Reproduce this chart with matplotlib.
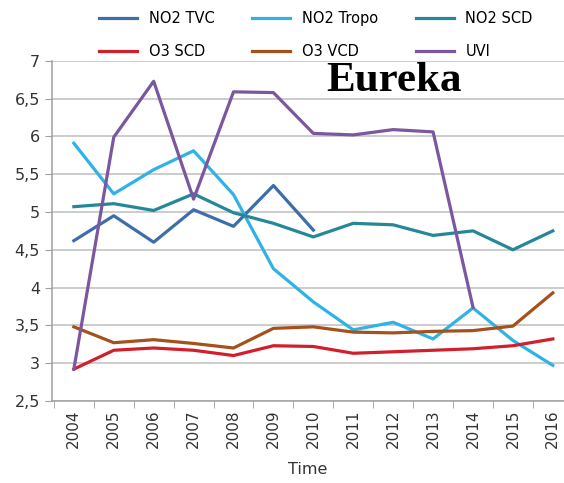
import numpy as np
import matplotlib.pyplot as plt
from matplotlib.ticker import FuncFormatter, FixedLocator

years = ['2004', '2005', '2006', '2007', '2008', '2009', '2010',
         '2011', '2012', '2013', '2014', '2015', '2016']
no2_tvc = [4.62, 4.95, 4.60, 5.03, 4.81, 5.35, 4.76]
no2_tropo = [5.91, 5.24, 5.56, 5.81, 5.23, 4.25, 3.81, 3.44, 3.54, 3.32, 3.73, 3.30, 2.97]
no2_scd = [5.07, 5.11, 5.02, 5.24, 4.99, 4.85, 4.67, 4.85, 4.83, 4.69, 4.75, 4.50, 4.75]
o3_scd = [2.92, 3.17, 3.20, 3.17, 3.10, 3.23, 3.22, 3.13, 3.15, 3.17, 3.19, 3.23, 3.32]
o3_vcd = [3.48, 3.27, 3.31, 3.26, 3.20, 3.46, 3.48, 3.41, 3.40, 3.42, 3.43, 3.49, 3.93]
uvi = [2.92, 5.99, 6.73, 5.17, 6.59, 6.58, 6.04, 6.02, 6.09, 6.06, 3.74]

fig = plt.figure(figsize=(5.64, 4.83), dpi=100)
ax = fig.add_axes([0.092, 0.17, 0.908, 0.704])

x = np.arange(len(years))
lw = 2.3
l1, = ax.plot(x[:len(no2_tvc)], no2_tvc, color='#3d6eab', lw=lw, label='NO2 TVC')
l2, = ax.plot(x, no2_tropo, color='#2fb2e6', lw=lw, label='NO2 Tropo')
l3, = ax.plot(x, no2_scd, color='#25889a', lw=lw, label='NO2 SCD')
l4, = ax.plot(x, o3_scd, color='#d1202b', lw=lw, label='O3 SCD')
l5, = ax.plot(x, o3_vcd, color='#a4511c', lw=lw, label='O3 VCD')
l6, = ax.plot(x[:len(uvi)], uvi, color='#7a579f', lw=lw, label='UVI')

ax.set_xlim(-0.55, 12.28)
ax.set_ylim(2.5, 7)
ax.set_yticks(np.arange(2.5, 7.01, 0.5))
ax.yaxis.set_major_formatter(FuncFormatter(lambda v, p: ('%g' % v).replace('.', ',')))
ax.grid(axis='y', color='#bfbfbf', lw=1.1)
ax.set_axisbelow(True)

ax.set_xticks(x)
ax.set_xticklabels(years, rotation=90, fontsize=11, color='#333333')
ax.xaxis.set_minor_locator(FixedLocator(np.arange(-0.5, 12.6, 1)))
ax.tick_params(axis='x', which='major', length=0, pad=6)
ax.tick_params(axis='x', which='minor', length=5, color='#a0a0a0', direction='out')
ax.tick_params(axis='y', length=5, color='#a0a0a0', labelsize=11.5, labelcolor='#333333')

for s in ['top', 'right']:
    ax.spines[s].set_visible(False)
for s in ['left', 'bottom']:
    ax.spines[s].set_color('#a0a0a0')
    ax.spines[s].set_linewidth(1.1)

ax.set_xlabel('Time', fontsize=11.5, color='#333333', labelpad=10)

ax.text(0.535, 0.94, 'Eureka', transform=ax.transAxes, fontsize=31, fontweight='bold',
        family='Liberation Serif', va='center', ha='left')

fig.legend(handles=[l1, l4, l2, l5, l3, l6], ncol=3, loc='upper center',
           bbox_to_anchor=(0.56, 1.005), frameon=False, fontsize=10.5,
           handlelength=2.6, columnspacing=2.6, labelspacing=1.25)

fig.savefig('out.png', dpi=100)
